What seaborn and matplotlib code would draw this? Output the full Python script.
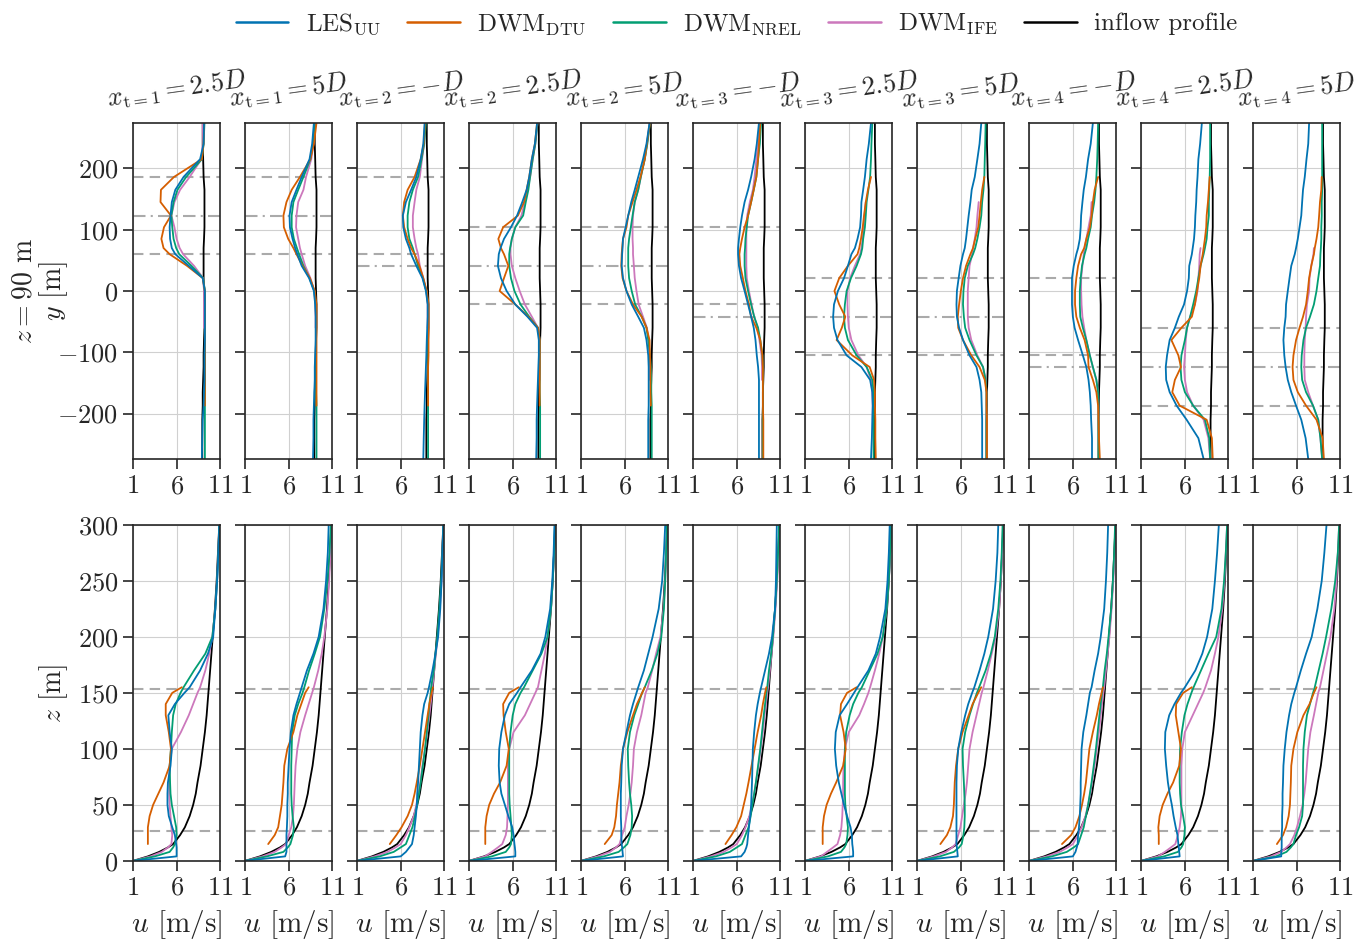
import numpy as np
import seaborn as sns
import matplotlib.pyplot as plt
from matplotlib.lines import Line2D

nan = np.nan

# panel layout: turbine index and streamwise offset of each profile
turbine = [1, 1, 2, 2, 2, 3, 3, 3, 4, 4, 4]
offset = ["2.5D", "5D", "-D", "2.5D", "5D", "-D", "2.5D", "5D", "-D", "2.5D", "5D"]
hub_y = [123, 41, -42, -124]   # lateral turbine centres [m]
rotor_d = 126
hub_z = 90

labels = ["LES$_{\\mathrm{UU}}$", "DWM$_{\\mathrm{DTU}}$", "DWM$_{\\mathrm{NREL}}$",
          "DWM$_{\\mathrm{IFE}}$", "inflow profile"]
colors = ["#0173b2", "#d55e00", "#029e73", "#cc78bc", "black"]

# ---------------- horizontal profiles (z = 90 m) ----------------
y_top = [274, 240, 215, 186, 165, 145, 123, 104, 85, 70, 60, 41, 21, 0,
         -22, -42, -60, -80, -105, -124, -145, -165, -187, -210, -240, -274]

inflow_top = [9.0, 9.0, 9.05, 9.1, 9.2, 9.2, 9.2, 9.2, 9.15, 9.1, 9.1, 9.1, 9.1,
              9.15, 9.2, 9.2, 9.2, 9.15, 9.1, 9.1, 9.05, 9.0, 9.0, 8.95, 8.95, 8.95]

les_top = [
    [9.15, 9.1, 8.7, 6.8, 5.85, 5.45, 5.3, 5.2, 5.25, 5.45, 5.85, 7.4, 9.0, 9.25, 9.25, 9.25, 9.25, 9.25, 9.2, 9.2, 9.2, 9.15, 9.1, 9.0, 8.95, 8.9],
    [8.9, 8.7, 8.4, 7.5, 6.9, 6.35, 6.1, 6.15, 6.45, 6.75, 7.0, 7.5, 8.35, 8.9, 9.05, 9.1, 9.1, 9.1, 9.05, 9.0, 9.0, 8.95, 8.9, 8.85, 8.85, 8.8],
    [8.75, 8.6, 8.3, 7.8, 7.2, 6.6, 6.25, 6.3, 6.6, 7.0, 7.2, 7.8, 8.5, 8.9, 9.1, 9.1, 9.05, 9.0, 8.95, 8.9, 8.85, 8.8, 8.75, 8.7, 8.65, 8.6],
    [8.8, 8.55, 8.2, 7.9, 7.6, 7.1, 6.5, 5.8, 5.0, 4.6, 4.4, 4.3, 4.65, 5.3, 6.3, 7.7, 8.8, 9.0, 9.0, 8.95, 8.9, 8.85, 8.8, 8.75, 8.75, 8.7],
    [8.85, 8.5, 8.1, 7.55, 7.15, 6.75, 6.4, 6.1, 5.8, 5.75, 5.7, 5.65, 5.8, 6.2, 6.8, 7.55, 8.2, 8.5, 8.7, 8.75, 8.75, 8.75, 8.75, 8.7, 8.7, 8.7],
    [8.55, 8.3, 8.05, 7.65, 7.3, 6.9, 6.6, 6.4, 6.25, 6.15, 6.15, 6.25, 6.5, 6.9, 7.3, 7.65, 7.95, 8.15, 8.3, 8.45, 8.55, 8.55, 8.55, 8.55, 8.55, 8.55],
    [8.55, 8.3, 8.05, 7.85, 7.65, 7.45, 7.4, 7.3, 7.0, 6.7, 6.3, 5.9, 5.45, 4.75, 4.3, 4.2, 4.3, 4.7, 5.75, 7.45, 8.45, 8.7, 8.75, 8.7, 8.65, 8.55],
    [8.35, 8.15, 7.9, 7.6, 7.25, 7.1, 6.9, 6.75, 6.6, 6.45, 6.25, 5.95, 5.75, 5.55, 5.5, 5.55, 5.8, 6.25, 7.0, 7.8, 8.15, 8.35, 8.4, 8.45, 8.45, 8.45],
    [8.3, 8.05, 7.75, 7.5, 7.25, 7.1, 6.95, 6.9, 6.8, 6.6, 6.4, 6.1, 5.9, 5.9, 5.9, 6.0, 6.2, 6.6, 7.15, 7.55, 7.8, 7.95, 8.05, 8.1, 8.2, 8.2],
    [7.95, 7.75, 7.55, 7.45, 7.35, 7.3, 7.2, 7.15, 7.05, 6.9, 6.8, 6.5, 6.45, 6.25, 5.9, 5.3, 4.85, 4.25, 3.95, 3.8, 3.85, 4.25, 5.05, 6.2, 7.55, 8.15],
    [7.4, 7.3, 7.1, 6.9, 6.7, 6.6, 6.5, 6.3, 6.1, 5.9, 5.75, 5.35, 5.15, 4.95, 4.75, 4.7, 4.55, 4.45, 4.55, 4.7, 4.95, 5.35, 5.9, 6.5, 7.0, 7.3],
]

dtu_top = [
    [9.15, 9.1, 8.9, 5.7, 4.2, 4.15, 5.35, 4.55, 4.25, 4.5, 5.2, 7.2, 9.0, 9.25, 9.25, 9.25, 9.25, 9.25, 9.25, 9.25, 9.25, 9.25, 9.25, nan, nan, nan],
    [9.2, 8.9, 8.5, 7.3, 6.35, 5.75, 5.4, 5.45, 5.95, 6.55, 6.9, 7.6, 8.45, 9.0, 9.2, 9.2, 9.2, 9.2, 9.2, 9.2, 9.2, 9.2, 9.2, nan, nan, nan],
    [8.8, 8.65, 8.3, 7.6, 6.8, 6.4, 6.25, 6.4, 6.8, 7.2, 7.6, 8.15, 8.6, 9.0, 9.2, 9.2, 9.2, 9.2, 9.2, 9.15, 9.15, 9.15, 9.15, nan, nan, nan],
    [8.8, 8.55, 8.2, 7.9, 7.6, 7.3, 6.6, 4.9, 4.35, 4.65, 5.0, 5.5, 5.0, 4.5, 6.3, 7.8, 8.9, 9.1, 9.1, 9.1, 9.1, 9.1, 9.1, nan, nan, nan],
    [8.9, 8.55, 8.3, 7.8, 7.35, 6.9, 6.4, 6.2, 5.8, 5.7, 5.65, 5.6, 5.75, 6.2, 6.95, 7.95, 8.5, 8.85, 8.9, 8.95, 8.95, 8.95, 9.0, nan, nan, nan],
    [8.7, 8.55, 8.45, 8.25, 7.95, 7.65, 7.3, 6.9, 6.6, 6.4, 6.3, 6.4, 6.7, 7.0, 7.4, 7.65, 8.25, 8.7, 8.95, 9.0, 9.0, 9.0, 9.0, 9.05, 9.05, 9.05],
    [nan, nan, nan, 8.55, 8.2, 7.95, 7.75, 7.6, 7.4, 7.2, 7.0, 5.9, 4.9, 4.35, 4.9, 5.6, 5.2, 4.6, 6.4, 8.4, 8.9, 9.0, 9.0, 9.05, 9.05, 9.1],
    [nan, nan, nan, 8.7, 8.45, 8.3, 8.15, 8.0, 7.65, 7.4, 7.1, 6.6, 6.25, 6.0, 5.8, 5.65, 5.7, 6.25, 7.2, 8.15, 8.75, 8.95, 8.95, 9.0, 9.0, 9.0],
    [nan, nan, nan, 8.9, 8.5, 8.3, 8.15, 7.95, 7.55, 7.3, 6.95, 6.6, 6.4, 6.25, 6.25, 6.4, 6.8, 7.35, 7.75, 7.8, 8.3, 8.7, 8.9, 8.95, 9.0, 9.1],
    [nan, nan, nan, 8.85, 8.75, 8.65, 8.5, 8.45, 8.3, 8.15, 8.05, 7.8, 7.65, 7.4, 7.15, 6.8, 5.6, 4.45, 5.25, 5.55, 4.85, 4.55, 5.4, 8.5, 9.1, 9.2],
    [nan, nan, nan, 8.85, 8.8, 8.65, 8.55, 8.45, 8.25, 8.05, 7.95, 7.65, 7.4, 7.25, 7.05, 6.7, 6.3, 5.9, 5.6, 5.5, 5.6, 6.1, 7.05, 8.25, 8.95, 9.1],
]

nrel_top = [
    [9.2, 9.1, 8.9, 7.1, 6.1, 5.65, 5.4, 5.5, 5.65, 5.95, 6.3, 7.7, 9.05, 9.25, 9.25, 9.25, 9.25, 9.25, 9.25, 9.25, 9.25, 9.25, 9.25, 9.25, 9.25, 9.25],
    [9.0, 8.8, 8.5, 7.7, 7.1, 6.55, 6.35, 6.35, 6.6, 6.95, 7.2, 7.7, 8.4, 8.95, 9.1, 9.15, 9.15, 9.15, 9.15, 9.15, 9.15, 9.15, 9.2, 9.2, 9.2, 9.2],
    [8.9, 8.7, 8.4, 8.0, 7.4, 7.0, 6.8, 6.8, 7.0, 7.4, 7.6, 8.0, 8.55, 8.95, 9.15, 9.15, 9.15, 9.15, 9.15, 9.15, 9.15, 9.15, 9.15, 9.15, 9.15, 9.15],
    [8.85, 8.6, 8.3, 8.0, 7.8, 7.5, 7.2, 6.3, 5.9, 5.7, 5.6, 5.6, 5.8, 6.2, 6.9, 7.9, 8.9, 9.1, 9.1, 9.1, 9.1, 9.1, 9.15, 9.15, 9.15, 9.15],
    [8.9, 8.6, 8.3, 7.85, 7.55, 7.15, 6.9, 6.7, 6.5, 6.4, 6.4, 6.4, 6.5, 6.8, 7.2, 7.95, 8.5, 8.7, 8.9, 9.0, 9.05, 9.05, 9.1, 9.1, 9.1, 9.1],
    [8.8, 8.65, 8.45, 8.25, 7.95, 7.65, 7.3, 7.15, 7.0, 6.95, 6.9, 6.9, 7.0, 7.3, 7.65, 8.0, 8.45, 8.7, 8.95, 9.0, 9.0, 9.0, 9.0, 9.0, 9.0, 9.0],
    [8.7, 8.6, 8.55, 8.45, 8.25, 8.05, 7.95, 7.85, 7.65, 7.55, 7.4, 6.9, 6.25, 5.75, 5.55, 5.45, 5.55, 5.9, 6.9, 8.05, 8.7, 8.85, 8.85, 8.85, 8.85, 8.85],
    [8.85, 8.8, 8.75, 8.7, 8.6, 8.45, 8.35, 8.15, 7.9, 7.65, 7.4, 6.8, 6.45, 6.3, 6.25, 6.35, 6.5, 7.0, 7.8, 8.55, 8.85, 8.95, 8.95, 8.95, 8.95, 8.95],
    [8.9, 8.85, 8.8, 8.7, 8.6, 8.45, 8.2, 8.05, 7.75, 7.55, 7.35, 7.05, 6.9, 6.8, 6.8, 6.85, 7.15, 7.55, 7.95, 8.3, 8.7, 8.9, 8.95, 8.95, 8.95, 8.95],
    [8.9, 8.9, 8.9, 8.85, 8.8, 8.75, 8.75, 8.6, 8.5, 8.3, 8.15, 7.8, 7.55, 7.3, 6.95, 6.6, 6.25, 6.0, 5.6, 5.5, 5.6, 6.0, 6.95, 8.3, 8.8, 8.9],
    [8.9, 8.9, 8.9, 8.9, 8.9, 8.85, 8.85, 8.8, 8.8, 8.75, 8.7, 8.65, 8.45, 8.25, 7.95, 7.5, 7.05, 6.75, 6.55, 6.5, 6.6, 7.05, 7.85, 8.45, 8.7, 8.9],
]

ife_top = [
    [9.0, 9.0, 8.85, 7.5, 6.4, 5.75, 5.4, 5.75, 6.0, 6.35, 6.75, 8.0, 9.05, 9.15, 9.15, 9.15, 9.15] + [nan] * 9,
    [9.0, 8.85, 8.6, 8.0, 7.7, 7.1, 6.9, 6.85, 7.1, 7.3, 7.5, 7.9, 8.5, 8.95, 9.05, 9.1, 9.1] + [nan] * 9,
    [8.8, 8.7, 8.45, 8.2, 7.8, 7.6, 7.4, 7.4, 7.6, 7.8, 8.0, 8.2, 8.6, 8.95, 9.1, 9.1, 9.1] + [nan] * 9,
    [8.85, 8.6, 8.3, 8.0, 7.7, 7.4, 7.0, 6.3, 5.9, 5.75, 5.75, 5.9, 6.3, 6.8, 7.4, 8.2, 8.9, 9.1, 9.1, 9.1, 9.1] + [nan] * 5,
    [8.85, 8.55, 8.3, 7.85, 7.55, 7.15, 6.95, 6.9, 6.9, 6.95, 6.95, 7.05, 7.15, 7.35, 7.6, 8.1, 8.55, 8.75, 8.85, 8.9, 8.9] + [nan] * 5,
    [8.6, 8.45, 8.25, 8.05, 7.85, 7.5, 7.2, 7.1, 7.1, 7.1, 7.1, 7.1, 7.15, 7.4, 7.7, 8.0, 8.4, 8.6, 8.85, 8.9, 8.9] + [nan] * 5,
    [nan] * 5 + [7.95, 7.8, 7.7, 7.6, 7.45, 7.3, 6.7, 6.15, 5.85, 5.85, 5.9, 6.0, 6.3, 7.1, 8.05, 8.55, 8.7, 8.75, 8.75] + [nan] * 2,
    [nan] * 5 + [8.05, 7.9, 7.8, 7.6, 7.4, 7.3, 7.0, 6.9, 6.8, 6.8, 6.8, 6.9, 7.2, 7.9, 8.55, 8.85, 8.95, 8.95, 8.95] + [nan] * 2,
    [nan] * 5 + [8.15, 8.05, 7.8, 7.55, 7.35, 7.25, 7.1, 6.95, 6.95, 7.0, 7.1, 7.3, 7.55, 7.95, 8.3, 8.7, 8.9, 8.95, 8.95] + [nan] * 2,
    [nan] * 9 + [7.8, 7.7, 7.65, 7.55, 7.45, 7.15, 6.6, 6.25, 6.1, 6.0, 5.9, 6.0, 6.25, 6.95, 8.15, 8.7, 8.9],
    [nan] * 9 + [7.95, 7.9, 7.65, 7.45, 7.4, 7.15, 7.05, 7.0, 6.9, 6.85, 6.85, 6.9, 7.3, 7.85, 8.45, 8.7, 8.9],
]

# ---------------- vertical profiles (y = hub) ----------------
z_bot = [0, 4, 8, 12, 15, 23, 30, 40, 50, 60, 70, 85, 100, 115, 130, 140,
         150, 155, 170, 185, 200, 225, 250, 275, 300]

inflow_bot = [1.0, 2.7, 4.0, 5.0, 5.6, 6.4, 6.95, 7.5, 7.9, 8.2, 8.4, 8.75, 9.0,
              9.25, 9.45, 9.55, 9.65, 9.7, 9.85, 10.0, 10.15, 10.4, 10.6, 10.75, 10.9]

les_bot = [
    [1.0, 6.0, 6.0, 6.0, 5.95, 5.8, 5.5, 5.1, 4.95, 4.95, 5.0, 5.3, 5.45, 5.2, 5.05, 5.8, 6.9, 7.5, 8.7, 9.6, 10.2, 10.45, 10.65, 10.8, 10.9],
    [1.0, 5.6, 5.75, 5.75, 5.75, 5.75, 5.8, 5.85, 5.85, 5.9, 5.9, 6.0, 6.1, 6.25, 6.55, 6.9, 7.3, 7.5, 8.1, 8.85, 9.45, 10.0, 10.3, 10.5, 10.6],
    [1.0, 6.0, 6.6, 7.0, 7.3, 7.5, 7.6, 7.75, 7.85, 7.9, 8.0, 8.1, 8.2, 8.3, 8.5, 8.7, 9.1, 9.25, 9.65, 10.0, 10.3, 10.55, 10.7, 10.8, 10.9],
    [1.0, 6.3, 6.3, 6.25, 6.2, 6.1, 5.95, 5.5, 5.1, 4.7, 4.5, 4.4, 4.45, 4.7, 5.1, 5.6, 6.5, 6.9, 8.2, 9.2, 9.75, 10.3, 10.55, 10.7, 10.8],
    [1.0, 5.8, 5.75, 5.7, 5.65, 5.6, 5.6, 5.55, 5.55, 5.55, 5.6, 5.65, 5.8, 6.2, 6.6, 6.95, 7.35, 7.55, 8.2, 8.7, 9.2, 9.9, 10.3, 10.5, 10.65],
    [1.0, 6.5, 6.9, 7.1, 7.2, 7.3, 7.4, 7.55, 7.65, 7.7, 7.75, 7.8, 7.85, 8.0, 8.2, 8.4, 8.65, 8.8, 9.25, 9.7, 10.05, 10.4, 10.5, 10.55, 10.6],
    [1.0, 6.5, 6.5, 6.45, 6.4, 6.35, 6.2, 5.8, 5.45, 5.15, 4.85, 4.55, 4.4, 4.5, 4.95, 5.8, 6.6, 7.0, 8.25, 9.1, 9.6, 10.2, 10.45, 10.6, 10.7],
    [1.0, 5.65, 5.6, 5.55, 5.5, 5.5, 5.5, 5.5, 5.5, 5.5, 5.5, 5.55, 5.7, 6.05, 6.5, 6.85, 7.3, 7.55, 8.15, 8.7, 9.15, 9.7, 10.0, 10.2, 10.3],
    [1.0, 6.0, 6.3, 6.45, 6.55, 6.6, 6.7, 6.8, 6.85, 6.9, 6.9, 6.95, 7.0, 7.2, 7.55, 7.75, 7.95, 8.15, 8.5, 8.9, 9.2, 9.6, 9.8, 9.95, 10.05],
    [1.0, 5.4, 5.35, 5.3, 5.25, 5.15, 4.95, 4.7, 4.5, 4.25, 4.05, 3.85, 3.7, 3.75, 4.2, 4.8, 5.55, 6.0, 7.2, 8.0, 8.55, 9.15, 9.45, 9.7, 9.9],
    [1.0, 4.2, 4.2, 4.25, 4.25, 4.25, 4.3, 4.3, 4.35, 4.35, 4.4, 4.45, 4.6, 4.8, 5.1, 5.35, 5.7, 5.9, 6.45, 7.05, 7.7, 8.35, 8.85, 9.15, 9.4],
]

dtu_bot = [
    [nan] * 4 + [2.7, 2.7, 2.7, 2.9, 3.3, 3.9, 4.5, 5.2, 5.35, 5.1, 4.75, 4.75, 5.5, 6.6] + [nan] * 7,
    [nan] * 4 + [3.65, 4.4, 4.8, 5.0, 5.2, 5.3, 5.4, 5.5, 5.85, 6.55, 7.0, 7.45, 7.9, 8.3] + [nan] * 7,
    [nan] * 4 + [4.75, 5.5, 6.1, 6.8, 7.3, 7.6, 7.85, 8.2, 8.5, 8.8, 9.1, 9.3, 9.55, 9.7] + [nan] * 7,
    [nan] * 4 + [2.85, 2.85, 2.85, 3.0, 3.3, 3.85, 4.55, 5.3, 5.55, 5.2, 4.95, 4.9, 5.6, 6.7] + [nan] * 7,
    [nan] * 4 + [3.7, 4.5, 4.8, 5.0, 5.1, 5.25, 5.4, 5.55, 5.8, 6.3, 6.95, 7.4, 8.0, 8.3] + [nan] * 7,
    [nan] * 4 + [4.7, 5.4, 5.95, 6.5, 6.8, 7.1, 7.35, 7.7, 8.05, 8.4, 8.8, 9.0, 9.25, 9.4] + [nan] * 7,
    [nan] * 4 + [3.0, 3.0, 3.0, 3.15, 3.45, 3.95, 4.55, 5.35, 5.65, 5.4, 5.0, 5.1, 5.8, 6.9] + [nan] * 7,
    [nan] * 4 + [3.65, 4.4, 4.8, 5.1, 5.2, 5.25, 5.3, 5.45, 5.7, 6.2, 6.9, 7.35, 8.0, 8.35] + [nan] * 7,
    [nan] * 4 + [4.75, 5.8, 6.3, 6.75, 7.05, 7.3, 7.5, 7.7, 7.9, 8.3, 8.75, 9.0, 9.3, 9.45] + [nan] * 7,
    [nan] * 4 + [3.0, 3.0, 2.95, 3.1, 3.45, 4.0, 4.65, 5.35, 5.55, 5.25, 4.95, 5.0, 5.8, 6.8] + [nan] * 7,
    [nan] * 4 + [3.7, 4.4, 4.75, 5.05, 5.2, 5.25, 5.3, 5.35, 5.6, 6.05, 6.75, 7.45, 7.95, 8.25] + [nan] * 7,
]

nrel_bot = [
    [1.0, 3.5, 5.2, 5.6, 5.8, 6.0, 5.95, 5.7, 5.45, 5.3, 5.25, 5.2, 5.35, 5.45, 5.6, 5.9, 6.45, 6.8, 8.0, 9.3, 10.1, 10.45, 10.65, 10.8, 10.9],
    [1.0, 3.5, 5.4, 5.9, 6.2, 6.5, 6.6, 6.45, 6.35, 6.3, 6.3, 6.3, 6.35, 6.4, 6.7, 7.1, 7.6, 7.8, 8.35, 9.0, 9.6, 10.1, 10.45, 10.7, 10.85],
    [1.0, 3.6, 5.2, 6.0, 6.6, 7.0, 7.35, 7.65, 7.9, 8.1, 8.3, 8.55, 8.8, 9.0, 9.2, 9.3, 9.45, 9.5, 9.8, 10.0, 10.2, 10.45, 10.65, 10.8, 10.9],
    [1.0, 3.6, 5.2, 5.6, 5.8, 5.9, 5.85, 5.75, 5.65, 5.6, 5.6, 5.6, 5.6, 5.75, 6.0, 6.3, 6.9, 7.3, 8.3, 9.3, 10.0, 10.4, 10.6, 10.75, 10.85],
    [1.0, 3.6, 5.3, 5.9, 6.3, 6.65, 6.8, 6.85, 6.75, 6.6, 6.5, 6.4, 6.35, 6.6, 7.1, 7.55, 8.0, 8.3, 9.1, 9.75, 10.2, 10.5, 10.65, 10.75, 10.85],
    [1.0, 3.6, 5.2, 6.0, 6.6, 7.0, 7.35, 7.6, 7.8, 8.0, 8.2, 8.45, 8.7, 8.9, 9.1, 9.25, 9.4, 9.5, 9.7, 9.95, 10.15, 10.4, 10.6, 10.75, 10.85],
    [1.0, 3.6, 5.1, 5.5, 5.7, 5.85, 5.9, 5.75, 5.6, 5.55, 5.55, 5.55, 5.55, 5.7, 6.1, 6.5, 7.1, 7.5, 8.4, 9.3, 9.9, 10.35, 10.6, 10.75, 10.85],
    [1.0, 3.6, 5.2, 5.8, 6.1, 6.3, 6.4, 6.45, 6.45, 6.4, 6.35, 6.25, 6.2, 6.5, 7.0, 7.4, 7.85, 8.1, 8.85, 9.45, 9.9, 10.3, 10.55, 10.7, 10.8],
    [1.0, 3.6, 5.3, 6.1, 6.6, 6.95, 7.25, 7.5, 7.75, 7.95, 8.15, 8.4, 8.65, 8.85, 9.05, 9.2, 9.35, 9.45, 9.65, 9.9, 10.1, 10.4, 10.6, 10.75, 10.85],
    [1.0, 3.6, 5.2, 5.6, 5.8, 5.95, 6.0, 5.8, 5.55, 5.45, 5.4, 5.4, 5.45, 5.65, 5.95, 6.3, 6.75, 7.0, 7.85, 8.7, 9.6, 10.2, 10.5, 10.7, 10.85],
    [1.0, 3.6, 4.8, 5.3, 5.6, 5.9, 6.25, 6.6, 6.7, 6.7, 6.7, 6.7, 6.75, 6.9, 7.15, 7.5, 7.85, 8.05, 8.5, 8.95, 9.35, 9.95, 10.4, 10.7, 10.85],
]

ife_bot = [
    [1.0, 3.0, 4.3, 5.0, 5.4, 5.5, 5.4, 5.3, 5.2, 5.15, 5.15, 5.2, 5.45, 6.5, 7.4, 7.9, 8.4, 8.7, 9.3, 9.75, 10.1, 10.45, 10.65, 10.8, 10.9],
    [1.0, 3.0, 4.4, 5.2, 5.7, 6.0, 6.3, 6.5, 6.6, 6.65, 6.7, 6.8, 7.0, 7.35, 7.9, 8.3, 8.7, 8.9, 9.4, 9.8, 10.1, 10.45, 10.65, 10.8, 10.9],
    [1.0, 3.0, 4.5, 5.4, 6.0, 6.6, 7.0, 7.5, 7.8, 8.05, 8.25, 8.5, 8.8, 9.05, 9.3, 9.45, 9.6, 9.65, 9.85, 10.05, 10.25, 10.5, 10.7, 10.8, 10.9],
    [1.0, 2.8, 3.6, 4.3, 4.8, 5.2, 5.35, 5.4, 5.45, 5.45, 5.45, 5.45, 5.6, 6.1, 7.4, 8.0, 8.6, 8.9, 9.3, 9.7, 10.0, 10.4, 10.6, 10.75, 10.85],
    [1.0, 2.9, 4.3, 5.0, 5.4, 5.7, 6.0, 6.2, 6.45, 6.65, 6.8, 6.95, 7.05, 7.4, 7.9, 8.15, 8.4, 8.65, 9.15, 9.6, 10.1, 10.45, 10.65, 10.75, 10.85],
    [1.0, 3.0, 4.5, 5.4, 6.0, 6.6, 7.0, 7.45, 7.75, 8.0, 8.2, 8.5, 8.75, 9.0, 9.2, 9.35, 9.5, 9.6, 9.8, 10.0, 10.2, 10.45, 10.65, 10.8, 10.9],
    [1.0, 2.8, 3.5, 4.2, 4.7, 5.0, 5.15, 5.25, 5.3, 5.35, 5.35, 5.4, 5.55, 6.0, 7.2, 7.75, 8.25, 8.45, 9.0, 9.5, 9.9, 10.35, 10.6, 10.75, 10.85],
    [1.0, 2.9, 4.3, 5.0, 5.4, 5.7, 5.95, 6.15, 6.35, 6.55, 6.7, 6.85, 7.0, 7.35, 7.8, 8.1, 8.4, 8.6, 9.1, 9.55, 10.0, 10.4, 10.6, 10.75, 10.85],
    [1.0, 3.0, 4.5, 5.4, 6.0, 6.6, 7.0, 7.45, 7.75, 8.0, 8.2, 8.5, 8.75, 9.0, 9.2, 9.35, 9.5, 9.6, 9.8, 10.0, 10.2, 10.45, 10.65, 10.8, 10.9],
    [1.0, 2.9, 3.7, 4.4, 4.9, 5.2, 5.4, 5.55, 5.6, 5.6, 5.6, 5.6, 5.7, 6.0, 6.9, 7.5, 8.1, 8.35, 9.0, 9.45, 9.85, 10.3, 10.55, 10.7, 10.85],
    [1.0, 3.0, 4.2, 4.8, 5.2, 5.7, 6.0, 6.35, 6.65, 6.85, 7.0, 7.15, 7.3, 7.55, 7.95, 8.2, 8.45, 8.65, 9.05, 9.45, 9.85, 10.3, 10.55, 10.7, 10.85],
]

# ---------------- style ----------------
sns.set_style("ticks")
plt.rcParams.update({
    "font.family": "serif",
    "font.serif": ["cmr10", "DejaVu Serif"],
    "mathtext.fontset": "cm",
    "axes.formatter.use_mathtext": True,
    "axes.unicode_minus": True,
    "font.size": 19,
    "axes.linewidth": 1.2,
    "xtick.major.size": 7,
    "ytick.major.size": 7,
    "xtick.major.width": 1.2,
    "ytick.major.width": 1.2,
    "xtick.major.pad": 4,
    "xtick.direction": "out",
    "ytick.direction": "out",
})

fig, axes = plt.subplots(2, 11, figsize=(13.72, 9.46), dpi=100)
plt.subplots_adjust(left=0.097, right=0.977, top=0.870, bottom=0.090,
                    wspace=0.287, hspace=0.196)

ref_kw = dict(color="#aaaaaa", lw=1.5, zorder=1.5)

for i in range(11):
    t = turbine[i]
    # --- top row: lateral profiles
    ax = axes[0, i]
    series = [les_top[i], dtu_top[i], nrel_top[i], ife_top[i], inflow_top]
    for k in [4, 3, 2, 1, 0]:
        sns.lineplot(x=series[k], y=y_top, sort=False, estimator=None,
                     color=colors[k], lw=1.3, ax=ax, legend=False)
    edge_t = t - 1 if offset[i] == "-D" else t
    yc = hub_y[edge_t - 1]
    for v in (yc + rotor_d / 2, yc - rotor_d / 2):
        ax.axhline(v, ls=(0, (5, 3)), **ref_kw)
    ax.axhline(hub_y[t - 1], ls=(0, (6, 2.5, 1, 2.5)), **ref_kw)
    ax.set_ylim(-274, 274)
    ax.set_yticks([-200, -100, 0, 100, 200])
    ax.set_title(rf"$x_{{\mathrm{{t}}={t}}} = {offset[i]}$", rotation=8,
                 fontsize=19, pad=12)

    # --- bottom row: vertical profiles
    ax = axes[1, i]
    series = [les_bot[i], dtu_bot[i], nrel_bot[i], ife_bot[i], inflow_bot]
    for k in [4, 3, 2, 1, 0]:
        sns.lineplot(x=series[k], y=z_bot, sort=False, estimator=None,
                     color=colors[k], lw=1.3, ax=ax, legend=False)
    for v in (hub_z + rotor_d / 2, hub_z - rotor_d / 2):
        ax.axhline(v, ls=(0, (5, 3)), **ref_kw)
    ax.set_ylim(0, 300)
    ax.set_yticks([0, 50, 100, 150, 200, 250, 300])
    ax.set_xlabel("$u$ [m/s]", fontsize=21, labelpad=6)

    for a in axes[:, i]:
        a.set_xlim(1, 11)
        a.set_xticks([1, 6, 11])
        a.grid(True, color="#d0d0d0", lw=0.8)
        a.set_axisbelow(True)
        if i > 0:
            a.tick_params(labelleft=False)
            a.set_ylabel("")

axes[0, 0].set_ylabel("$z = 90$ m\n$y$ [m]", fontsize=20, linespacing=1.0)
axes[0, 0].yaxis.set_label_coords(-0.72, 0.5)
axes[1, 0].set_ylabel("$z$ [m]", fontsize=20)
axes[1, 0].yaxis.set_label_coords(-0.72, 0.5)
for ax in axes[0]:
    ax.set_xlabel("")

handles = [Line2D([], [], color=c, lw=1.8) for c in colors]
fig.legend(handles, labels, loc="upper center", ncol=5, frameon=False,
           bbox_to_anchor=(0.537, 1.012), fontsize=18, handlelength=2.1,
           columnspacing=1.05, handletextpad=0.7)

fig.savefig("out.png", dpi=100)
